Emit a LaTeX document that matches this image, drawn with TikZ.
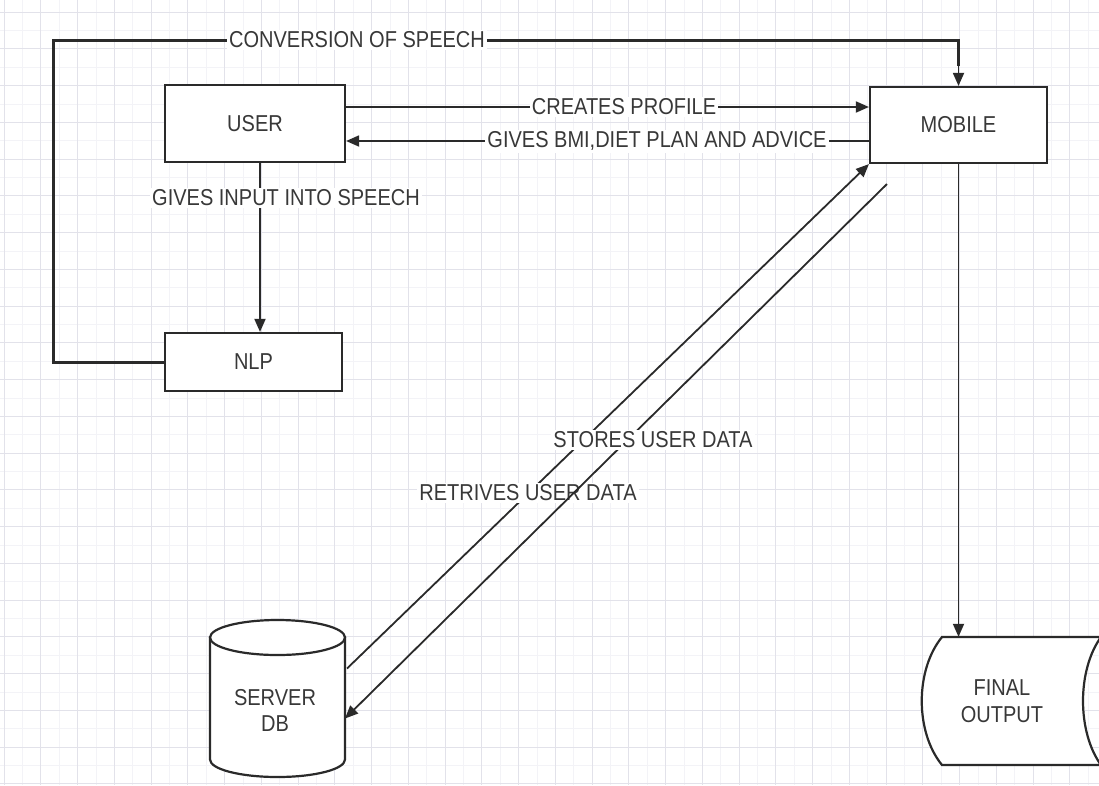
\documentclass[tikz,border=0pt]{standalone}
\usepackage{fontspec}
\setmainfont{Liberation Sans}[FakeStretch=0.87]
\usetikzlibrary{arrows.meta,calc}
\definecolor{ink}{HTML}{2A2A2A}
\definecolor{txt}{HTML}{383838}
\definecolor{gridc}{HTML}{E2E2EA}
\definecolor{gridf}{HTML}{F3F3F7}
\begin{document}
\begin{tikzpicture}[x=1pt,y=-1pt,
  box/.style={draw=ink, line width=2.2pt, fill=white, font=\fontsize{23}{27}\selectfont, text=txt},
  lbl/.style={fill=white, inner sep=2pt, font=\fontsize{23}{27}\selectfont, text=txt},
  conn/.style={draw=ink, line width=1.8pt},
  tip/.style={-{Triangle[length=13pt,width=11pt]}},
  shapeline/.style={draw=ink, line width=2.2pt, fill=white},
]
\useasboundingbox (0,0) rectangle (1099,785);
\fill[white] (0,0) rectangle (1099,785);
% grid
\foreach \i in {0,...,29} {\draw[gridf, line width=0.6pt] ({22.4+36.75*\i},0) -- ({22.4+36.75*\i},785);}
\foreach \j in {0,...,21} {\draw[gridf, line width=0.6pt] (0,{30.4+36.75*\j}) -- (1099,{30.4+36.75*\j});}
\foreach \i in {0,...,29} {\draw[gridc, line width=0.9pt] ({4+36.75*\i},0) -- ({4+36.75*\i},785);}
\foreach \j in {0,...,21} {\draw[gridc, line width=0.9pt] (0,{12+36.75*\j}) -- (1099,{12+36.75*\j});}

% nodes
\node[box, minimum width=180pt, minimum height=77pt] (user) at (255,123.5) {USER};
\node[box, minimum width=177pt, minimum height=76pt] (mobile) at (958.5,125) {MOBILE};
\node[box, minimum width=177pt, minimum height=58pt] (nlp) at (253.5,362) {NLP};

% server db cylinder
\node[minimum width=135pt, minimum height=157pt, inner sep=0pt, outer sep=0pt] (db) at (277.5,698.5) {};
\path[shapeline] (210,637.5) -- (210,759.5)
  .. controls (210,769.2) and (240.2,777) .. (277.5,777)
  .. controls (314.8,777) and (345,769.2) .. (345,759.5)
  -- (345,637.5) -- cycle;
\draw[shapeline] (277.5,637.5) ellipse [x radius=67.5, y radius=17.5];
\node[font=\fontsize{23}{26}\selectfont, text=txt, align=center] (dbtext) at (275,710) {SERVER\\DB};

% final output (stored data)
\path[shapeline] (942,637) -- (1101,637)
  .. controls (1077,670) and (1077,732) .. (1101,765)
  -- (942,765)
  .. controls (915,732) and (915,670) .. cycle;
\node[minimum width=170pt, minimum height=128pt, font=\fontsize{23}{27}\selectfont, text=txt, align=center] (fo) at (1002,701) {FINAL\\OUTPUT};

% helper coordinates
\coordinate (loopL) at (53,40);
\coordinate (yA) at (0,107);
\coordinate (yB) at (0,141);
\coordinate (xv) at (260,0);

% conversion of speech loop
\draw[conn, line width=3pt] (nlp.west) -| (loopL) -| ($(mobile.north)+(0,-20)$);
\draw[conn, tip] ($(mobile.north)+(0,-22)$) -- (mobile.north);
\node[lbl] (conv) at (357,40) {CONVERSION OF SPEECH};

% user <-> mobile
\draw[conn, tip] (user.east |- yA) -- (mobile.west |- yA);
\node[lbl] (cp) at (624,107) {CREATES PROFILE};
\draw[conn, tip] (mobile.west |- yB) -- (user.east |- yB);
\node[lbl] (gb) at (657,141) {GIVES BMI,DIET PLAN AND ADVICE};

% user -> nlp
\draw[conn, tip] (user.south -| xv) -- (nlp.north -| xv);
\node[lbl] (gi) at (286,198) {GIVES INPUT INTO SPEECH};

% mobile -> final output
\draw[conn, tip] (mobile.south) -- (mobile.south |- fo.north);

% db <-> mobile
\draw[conn, tip] ($(db.east)+(2,-30)$) -- (mobile.south west);
\node[lbl] (retr) at (528,493) {RETRIVES USER DATA};
\draw[conn, tip] ($(mobile.south west)+(18,20)$) -- ($(db.east)+(0,20)$);
\node[lbl] (stor) at (653,440) {STORES USER DATA};
\end{tikzpicture}
\end{document}
